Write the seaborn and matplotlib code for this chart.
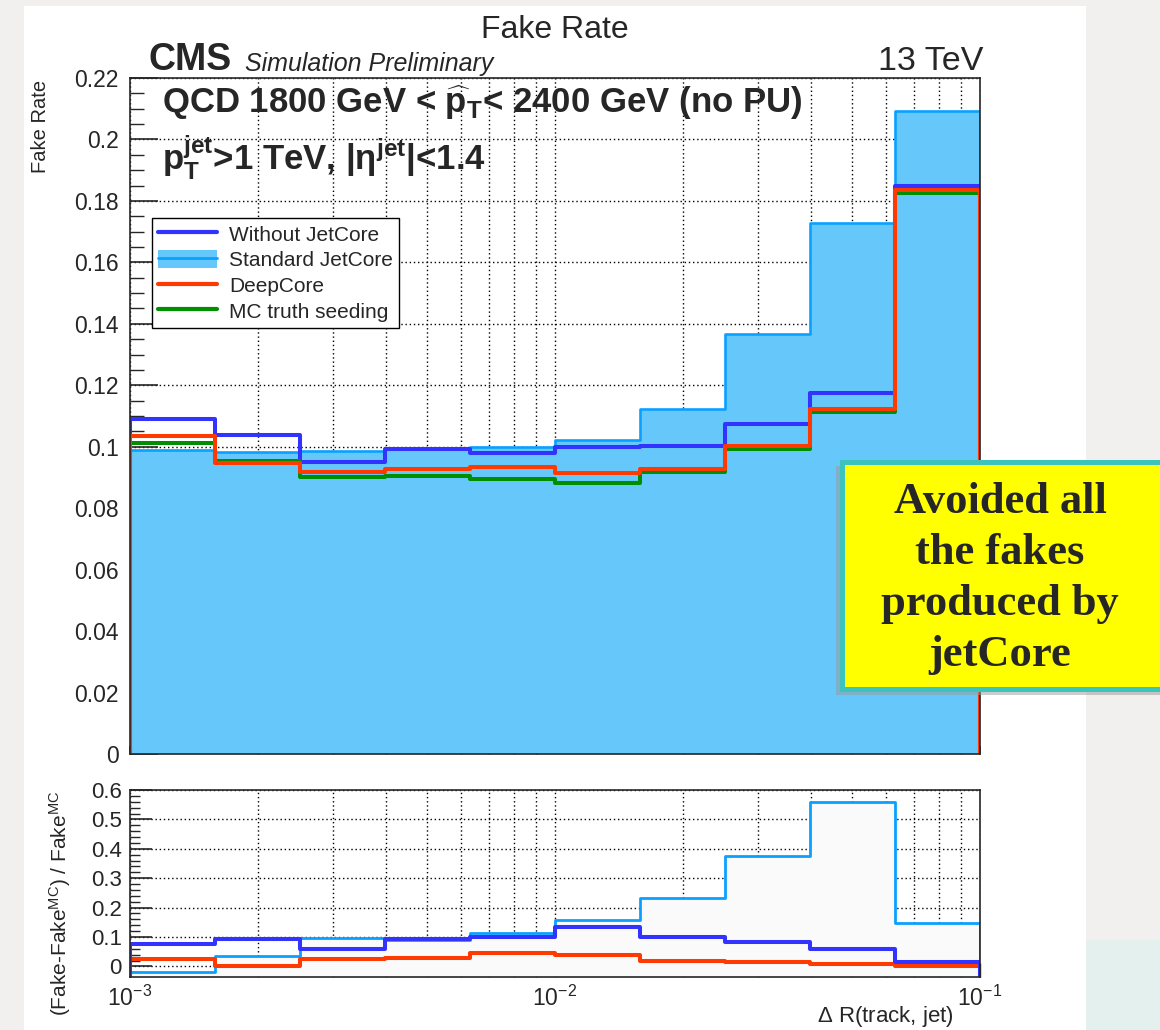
import numpy as np
import pandas as pd
import matplotlib
matplotlib.use("Agg")
import matplotlib.pyplot as plt
import seaborn as sns
from matplotlib.patches import Rectangle, Patch
from matplotlib.lines import Line2D
from matplotlib.ticker import MultipleLocator, FixedLocator, NullFormatter, FuncFormatter

# ---------------- data ----------------
bin_edges = [0.001, 0.001585, 0.002512, 0.003981, 0.00631, 0.01,
             0.01585, 0.02512, 0.03981, 0.0631, 0.1]

fake_without = [0.1089, 0.1038, 0.0949, 0.0992, 0.0978, 0.1000, 0.1003, 0.1073, 0.1174, 0.1848]
fake_standard = [0.0989, 0.0983, 0.0986, 0.0997, 0.0998, 0.1022, 0.1123, 0.1366, 0.1729, 0.2093]
fake_deepcore = [0.1035, 0.0946, 0.0919, 0.0929, 0.0935, 0.0913, 0.0929, 0.1002, 0.1122, 0.1837]
fake_mctruth = [0.1013, 0.0954, 0.0900, 0.0905, 0.0895, 0.0883, 0.0919, 0.0991, 0.1114, 0.1826]

ratio_without = [0.077, 0.092, 0.060, 0.094, 0.100, 0.133, 0.100, 0.083, 0.060, 0.015]
ratio_standard = [-0.019, 0.034, 0.097, 0.089, 0.115, 0.157, 0.231, 0.375, 0.558, 0.148]
ratio_deepcore = [0.026, 0.000, 0.026, 0.030, 0.045, 0.039, 0.018, 0.015, 0.009, 0.003]

series_labels = ["Without JetCore", "Standard JetCore", "DeepCore", "MC truth seeding"]
top_yticks = [0, 0.02, 0.04, 0.06, 0.08, 0.1, 0.12, 0.14, 0.16, 0.18, 0.2, 0.22]
bot_yticks = [0, 0.1, 0.2, 0.3, 0.4, 0.5, 0.6]
bot_xticks = [1e-3, 1e-2, 1e-1]
bot_xticklabels = [r"$10^{-3}$", r"$10^{-2}$", r"$10^{-1}$"]

# ---------------- style ----------------
sns.set_theme(style="ticks")
plt.rcParams["font.family"] = ["Liberation Sans", "DejaVu Sans"]
plt.rcParams["mathtext.fontset"] = "custom"
plt.rcParams["mathtext.rm"] = "Liberation Sans"
plt.rcParams["mathtext.it"] = "Liberation Sans:italic"
plt.rcParams["mathtext.bf"] = "Liberation Sans:bold"
plt.rcParams["axes.linewidth"] = 1.2

C_BLUE = "#3333ff"
C_FILL = "#66c8fa"
C_LBLUE = "#0aa0ff"
C_RED = "#ff3a00"
C_GREEN = "#008f00"

W, H = 1160, 1030
fig = plt.figure(figsize=(W / 100, H / 100), dpi=100, facecolor="#f2f0ee")

def fx(px):
    return px / W

def fy(py):
    return 1 - py / H

# white canvas
fig.patches.append(Rectangle((fx(24), 0), fx(1086 - 24), fy(6), transform=fig.transFigure,
                             fc="white", ec="none", zorder=-10))
fig.patches.append(Rectangle((fx(1086), 0), fx(74), fy(940), transform=fig.transFigure,
                             fc="#dcf0ef", ec="none", zorder=-11, alpha=0.6))

ax = fig.add_axes([fx(130), fy(754), fx(850), (754 - 78) / H])
ax2 = fig.add_axes([fx(130), fy(977), fx(850), (977 - 790) / H])

for a in (ax, ax2):
    a.set_xscale("log")
    a.set_xlim(bin_edges[0], bin_edges[-1])
    a.set_facecolor("white")


def step_frame(vals, base):
    x = [bin_edges[0]] + list(bin_edges) + [bin_edges[-1]]
    y = [base] + list(vals) + [vals[-1], base]
    return pd.DataFrame({"x": x, "y": y})


dots = (0, (1, 2))

# ---------------- top panel ----------------
ax.set_ylim(0, 0.22)
ax.fill_between(bin_edges, list(fake_standard) + [fake_standard[-1]], 0, step="post",
                color=C_FILL, lw=0, zorder=1.5)
sns.lineplot(data=step_frame(fake_standard, 0), x="x", y="y", ax=ax, sort=False, estimator=None,
             drawstyle="steps-post", color=C_LBLUE, lw=1.9, legend=False, zorder=2)
sns.lineplot(data=step_frame(fake_without, 0), x="x", y="y", ax=ax, sort=False, estimator=None,
             drawstyle="steps-post", color=C_BLUE, lw=2.9, legend=False, zorder=2.1)
sns.lineplot(data=step_frame(fake_mctruth, 0), x="x", y="y", ax=ax, sort=False, estimator=None,
             drawstyle="steps-post", color=C_GREEN, lw=2.9, legend=False, zorder=2.2)
sns.lineplot(data=step_frame(fake_deepcore, 0), x="x", y="y", ax=ax, sort=False, estimator=None,
             drawstyle="steps-post", color=C_RED, lw=2.9, legend=False, zorder=2.3)
ax.set_xlim(bin_edges[0], bin_edges[-1])
ax.set_ylim(0, 0.22)

ax.yaxis.set_major_locator(FixedLocator(top_yticks))
ax.yaxis.set_minor_locator(MultipleLocator(0.005))
ax.yaxis.set_major_formatter(FuncFormatter(lambda v, p: "%g" % round(v, 3)))
ax.grid(True, axis="y", which="major", ls=dots, color="black", lw=1.0, zorder=0.5)
ax.grid(True, axis="x", which="both", ls=dots, color="black", lw=1.0, zorder=0.5)
ax.set_axisbelow(True)
ax.tick_params(axis="y", which="major", direction="in", length=20, width=1.2, labelsize=16.5,
               pad=8, left=True, right=False)
ax.tick_params(axis="y", which="minor", direction="in", length=10, width=1.0, left=True, right=False)
ax.tick_params(axis="x", which="both", direction="in", bottom=True, top=False, labelbottom=False)
ax.set_xlabel("")
ax.set_ylabel("")

handles = [Line2D([], [], color=C_BLUE, lw=3),
           (Patch(fc=C_FILL, ec="none"), Line2D([], [], color=C_LBLUE, lw=2)),
           Line2D([], [], color=C_RED, lw=3),
           Line2D([], [], color=C_GREEN, lw=3)]
leg = ax.legend(handles, series_labels, loc="upper left", bbox_to_anchor=(0.026, 0.793),
                borderaxespad=0, fontsize=15, frameon=True, fancybox=False, framealpha=1,
                edgecolor="black", handlelength=2.8, handleheight=1.0, labelspacing=0.25,
                handletextpad=0.6, borderpad=0.3)
leg.get_frame().set_linewidth(1.0)
leg.set_zorder(5)

# ---------------- bottom panel ----------------
ax2.set_ylim(-0.036, 0.6)
ax2.fill_between(bin_edges, list(ratio_standard) + [ratio_standard[-1]], -0.036, step="post",
                 color="#fafafa", lw=0, zorder=1.5)
sns.lineplot(data=step_frame(ratio_standard, -0.036), x="x", y="y", ax=ax2, sort=False, estimator=None,
             drawstyle="steps-post", color=C_LBLUE, lw=2.0, legend=False, zorder=2)
sns.lineplot(data=step_frame(ratio_deepcore, -0.036), x="x", y="y", ax=ax2, sort=False, estimator=None,
             drawstyle="steps-post", color=C_RED, lw=2.9, legend=False, zorder=2.1)
sns.lineplot(data=step_frame(ratio_without, -0.036), x="x", y="y", ax=ax2, sort=False, estimator=None,
             drawstyle="steps-post", color=C_BLUE, lw=2.9, legend=False, zorder=2.2)
ax2.set_xlim(bin_edges[0], bin_edges[-1])
ax2.set_ylim(-0.036, 0.6)
ax2.yaxis.set_major_locator(FixedLocator(bot_yticks))
ax2.yaxis.set_minor_locator(MultipleLocator(0.02))
ax2.yaxis.set_major_formatter(FuncFormatter(lambda v, p: "%g" % round(v, 3)))
ax2.set_xticks(bot_xticks)
ax2.set_xticklabels(bot_xticklabels)
ax2.xaxis.set_minor_formatter(NullFormatter())
ax2.grid(True, axis="y", which="major", ls=dots, color="black", lw=1.0, zorder=0.5)
ax2.grid(True, axis="x", which="both", ls=dots, color="black", lw=1.0, zorder=0.5)
ax2.set_axisbelow(True)
ax2.tick_params(axis="y", which="major", direction="in", length=16, width=1.2, labelsize=16,
                pad=6, left=True, right=False)
ax2.tick_params(axis="y", which="minor", direction="in", length=7, width=1.0, left=True, right=False)
ax2.tick_params(axis="x", which="major", direction="in", length=10, width=1.0, labelsize=16.5, pad=6,
                bottom=True, top=False)
ax2.tick_params(axis="x", which="minor", direction="in", length=5, width=1.0, bottom=True, top=False)
ax2.set_xlabel("")
ax2.set_ylabel("")

# ---------------- texts ----------------
fig.text(fx(555), fy(38), "Fake Rate", ha="center", va="baseline", fontsize=23)
fig.text(fx(148), fy(70), "CMS", ha="left", va="baseline", fontsize=27, fontweight="bold")
fig.text(fx(245), fy(71), "Simulation Preliminary", ha="left", va="baseline", fontsize=18,
         fontstyle="italic")
fig.text(fx(983), fy(70), "13 TeV", ha="right", va="baseline", fontsize=24.5)
fig.text(fx(162), fy(113), r"QCD 1800 GeV < $\mathbf{\widehat{p}_{T}}$< 2400 GeV (no PU)",
         ha="left", va="baseline", fontsize=25, fontweight="bold")
fig.text(fx(162), fy(170), r"$\mathbf{p_{T}^{jet}}$>1 TeV, |η$^{\mathbf{jet}}$|<1.4",
         ha="left", va="baseline", fontsize=25, fontweight="bold")
fig.text(fx(40), fy(80), "Fake Rate", rotation=90, ha="center", va="top", fontsize=14.5)
fig.text(fx(60), fy(903), r"(Fake-Fake$^{\mathrm{MC}}$) / Fake$^{\mathrm{MC}}$", rotation=90,
         ha="center", va="center", fontsize=15)
fig.text(fx(954), fy(1022), r"$\Delta$ R(track, jet)", ha="right", va="baseline", fontsize=16)

# annotation box
fig.patches.append(Rectangle((fx(836), fy(695)), fx(330), (695 - 466) / H, transform=fig.transFigure,
                             fc="#9a9a9a", ec="none", alpha=0.5, zorder=8))
fig.patches.append(Rectangle((fx(842), fy(689)), fx(330), (689 - 462) / H, transform=fig.transFigure,
                             fc="#ffff00", ec="#3cc4bc", lw=3.6, zorder=9))
box_lines = ["Avoided all", "the fakes", "produced by", "jetCore"]
for i, s in enumerate(box_lines):
    fig.text(fx(1000), fy(513 + 51 * i), s, ha="center", va="baseline", fontsize=32,
             fontweight="bold", family=["Liberation Serif", "DejaVu Serif"], zorder=10)

fig.savefig("out.png", dpi=100, facecolor=fig.get_facecolor())
